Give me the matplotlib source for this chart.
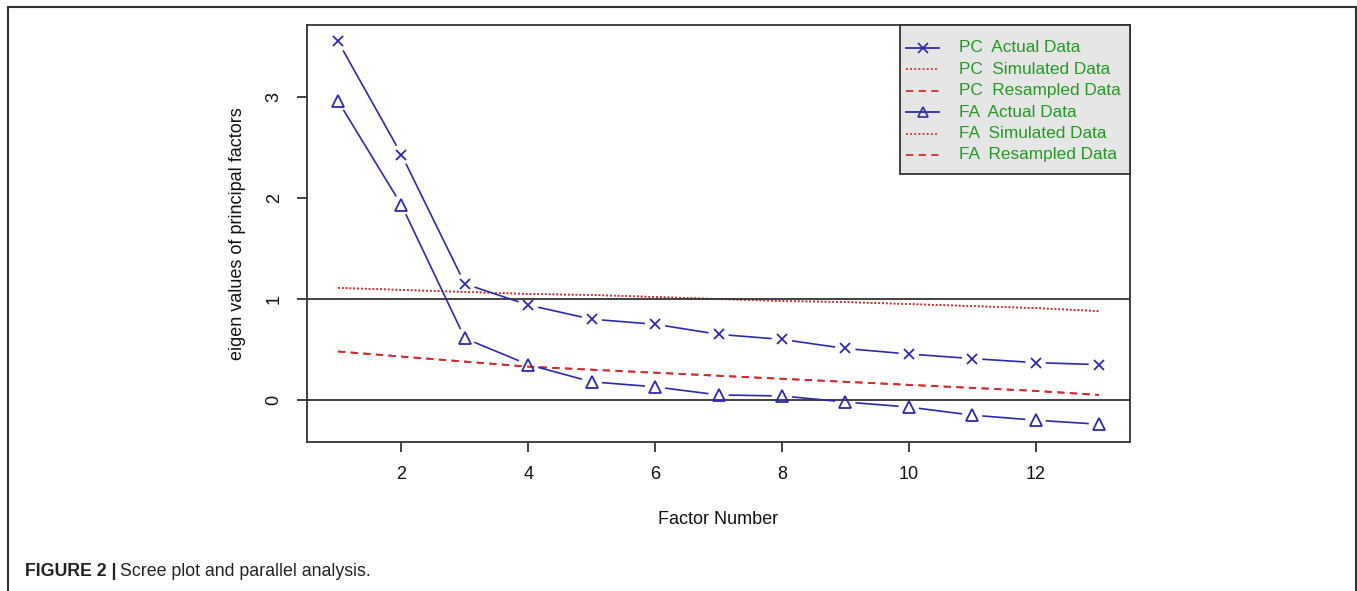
"""
Scree plot with parallel analysis (PC and FA eigenvalues vs. simulated/resampled data).
"""

import numpy as np
import matplotlib.pyplot as plt
from matplotlib.lines import Line2D
from matplotlib.patches import Rectangle

# --- Data ---
factors = np.arange(1, 14)
pc_actual = [3.55, 2.43, 1.15, 0.94, 0.80, 0.75, 0.65, 0.60, 0.51, 0.455, 0.41, 0.37, 0.35]
fa_actual = [2.96, 1.93, 0.61, 0.35, 0.18, 0.13, 0.05, 0.04, -0.02, -0.07, -0.15, -0.20, -0.24]
pc_simulated = [1.11, 1.09, 1.07, 1.05, 1.04, 1.02, 1.00, 0.98, 0.97, 0.95, 0.93, 0.91, 0.88]
fa_simulated = [1.11, 1.09, 1.07, 1.05, 1.04, 1.02, 1.00, 0.98, 0.97, 0.95, 0.93, 0.91, 0.88]
pc_resampled = [0.48, 0.43, 0.38, 0.33, 0.30, 0.27, 0.24, 0.21, 0.18, 0.15, 0.12, 0.09, 0.05]
fa_resampled = [0.48, 0.43, 0.38, 0.33, 0.30, 0.27, 0.24, 0.21, 0.18, 0.15, 0.12, 0.09, 0.05]
reference_lines = [0, 1]

x_ticks = [2, 4, 6, 8, 10, 12]
y_ticks = [0, 1, 2, 3]
legend_labels = ["PC  Actual Data", "PC  Simulated Data", "PC  Resampled Data",
                 "FA  Actual Data", "FA  Simulated Data", "FA  Resampled Data"]

# --- Style ---
BLUE = "#2a2ab0"
RED = "#d42a2a"
GREEN = "#229a22"
DARK = "#333333"
FONT = "Liberation Sans"
W, H, DPI = 1357, 591, 100

plt.rcParams["font.family"] = [FONT, "DejaVu Sans"]


def px(x, y):
    """Pixel position (origin top-left) to figure fraction."""
    return x / W, 1 - y / H


def gapped_line(ax, xs, ys, gap, **kw):
    """Join points with segments that stop short of each marker (R type='b')."""
    pts = ax.transData.transform(np.column_stack([xs, ys]))
    inv = ax.transData.inverted()
    for p0, p1 in zip(pts[:-1], pts[1:]):
        d = p1 - p0
        n = np.hypot(*d)
        if n <= 2 * gap:
            continue
        u = d / n
        seg = inv.transform([p0 + u * gap, p1 - u * gap])
        ax.plot(seg[:, 0], seg[:, 1], **kw)


fig = plt.figure(figsize=(W / DPI, H / DPI), dpi=DPI)
x0, y0 = px(307, 442)
x1, y1 = px(1130, 25)
ax = fig.add_axes([x0, y0, x1 - x0, y1 - y0])
ax.set_xlim(0.51, 13.49)
ax.set_ylim(-0.416, 3.713)

# reference lines at eigenvalue 0 and 1
for level in reference_lines:
    ax.axhline(level, color=DARK, lw=1.3, zorder=1)

# simulated (dotted) and resampled (dashed) curves
ax.plot(factors, pc_simulated, color=RED, lw=1.2, ls=(0, (1, 1.3)), zorder=0.5)
ax.plot(factors, fa_simulated, color=RED, lw=1.2, ls=(0, (1, 1.3)), zorder=0.5)
ax.plot(factors, pc_resampled, color=RED, lw=1.3, ls=(0, (4, 3)), zorder=2)
ax.plot(factors, fa_resampled, color=RED, lw=1.3, ls=(0, (4, 3)), zorder=2)

# actual eigenvalues with markers
gapped_line(ax, factors, pc_actual, 11, color=BLUE, lw=1.2, zorder=3)
gapped_line(ax, factors, fa_actual, 11, color=BLUE, lw=1.2, zorder=3)
ax.plot(factors, pc_actual, ls="none", marker="x", ms=7.5, mew=1.3, color=BLUE, zorder=4)
ax.plot(factors, fa_actual, ls="none", marker="^", ms=8.5, mew=1.3, mfc="none",
        mec=BLUE, zorder=4)

# axes and ticks
for sp in ax.spines.values():
    sp.set_color(DARK)
    sp.set_linewidth(1.3)
ax.set_xticks(x_ticks)
ax.set_yticks(y_ticks)
ax.set_yticklabels([str(v) for v in y_ticks], rotation=90, va="center")
ax.tick_params(direction="out", length=7.5, width=1.3, color=DARK,
               labelsize=13, pad=10, labelcolor="#111111")
ax.set_xlabel("Factor Number", fontsize=13, labelpad=20, color="#111111")
ax.set_ylabel("eigen values of principal factors", fontsize=13, labelpad=14,
              color="#111111")

# legend box drawn in the top-right corner of the axes
lx0, ly0 = px(900, 174)
lx1, ly1 = px(1130, 25)
fig.patches.append(Rectangle((lx0, ly0), lx1 - lx0, ly1 - ly0, transform=fig.transFigure,
                             facecolor="#e6e6e6", edgecolor=DARK, lw=1.3, zorder=5))
legend_styles = [
    dict(color=BLUE, ls="-", marker="x"),
    dict(color=RED, ls=(0, (1, 1.3))),
    dict(color=RED, ls=(0, (4, 3))),
    dict(color=BLUE, ls="-", marker="^"),
    dict(color=RED, ls=(0, (1, 1.3))),
    dict(color=RED, ls=(0, (4, 3))),
]
for i, (label, style) in enumerate(zip(legend_labels, legend_styles)):
    row_y = 48 + i * 21.4
    hx0, hy = px(906, row_y)
    hx1, _ = px(939, row_y)
    line = Line2D([hx0, hx1], [hy, hy], transform=fig.transFigure, lw=1.3,
                  color=style["color"], ls=style["ls"], zorder=6)
    fig.lines.append(line)
    if "marker" in style:
        fig.lines.append(Line2D([(hx0 + hx1) / 2], [hy], transform=fig.transFigure,
                                ls="none", marker=style["marker"], ms=7,
                                mfc="none", mec=style["color"], mew=1.2, zorder=6))
    tx, ty = px(959, row_y)
    fig.text(tx, ty, label, color=GREEN, fontsize=12.4, va="center", ha="left", zorder=7)

# outer frame around the figure panel
fx0, fy0 = px(8, 7)
fx1, fy1 = px(1356, 600)
for xs, ys in [([fx0, fx0], [fy0, fy1]), ([fx0, fx1], [fy0, fy0]), ([fx1, fx1], [fy0, fy1])]:
    fig.lines.append(Line2D(xs, ys, transform=fig.transFigure, color=DARK, lw=1.5))

# caption: bold figure number followed by regular text
cx, cy = px(25, 572)
bold = fig.text(cx, cy, "FIGURE 2 |", fontsize=12.8, fontweight="bold", va="center",
                ha="left", color="#222222")
fig.canvas.draw()
bb = bold.get_window_extent()
fig.text((bb.x1 + 4) / W, cy, "Scree plot and parallel analysis.", fontsize=12.8,
         va="center", ha="left", color="#222222")

fig.savefig("out.png", dpi=DPI)
